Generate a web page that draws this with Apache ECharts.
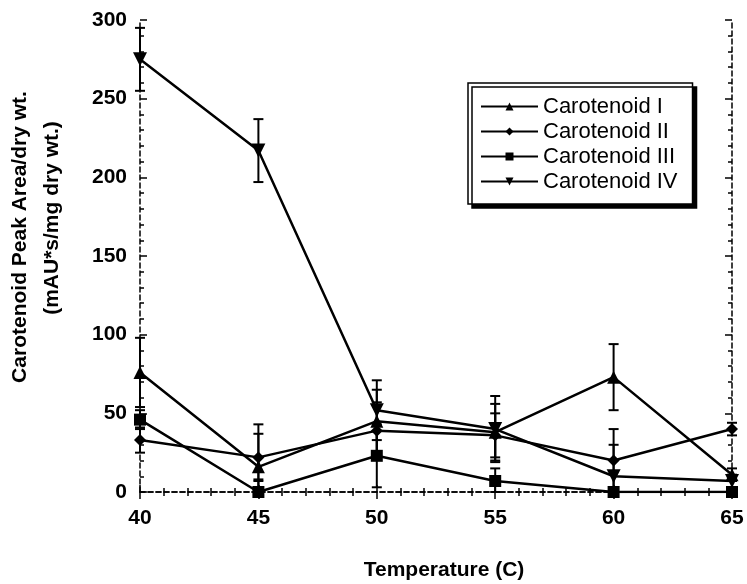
<!DOCTYPE html>
<html>
<head>
<meta charset="utf-8">
<script src="https://cdn.jsdelivr.net/npm/echarts@6/dist/echarts.min.js"></script>
<style>
  html, body { margin: 0; padding: 0; background: #fff; }
  #chart { width: 747px; height: 584px; }
</style>
</head>
<body>
<div id="chart"></div>
<script>
// Temperatures (C)
const temps = [40, 45, 50, 55, 60, 65];

// Mean peak area per dry weight for each carotenoid
const carI   = [76, 16, 45, 38, 73, 11];
const carII  = [33, 22, 39, 36, 20, 40];
const carIII = [46, 0, 23, 7, 0, 0];
const carIV  = [275, 217, 52, 40, 10, 7];

// Standard deviations (error bar half-lengths)
const errI   = [22, 27, 20, 18, 21, 4];
const errII  = [8, 15, 18, 14, 20, 4];
const errIII = [6, 8, 20, 8, 3, 2];
const errIV  = [20, 20, 19, 21, 20, 4];

const names = ['Carotenoid I', 'Carotenoid II', 'Carotenoid III', 'Carotenoid IV'];
const yTicks = [0, 50, 100, 150, 200, 250, 300];
const xTitle = 'Temperature (C)';
const yTitle = ['Carotenoid Peak Area/dry wt.', '(mAU*s/mg dry wt.)'];

const FONT = 'Liberation Sans, Arial, sans-serif';

function pairs(vals) {
  return temps.map((t, i) => [t, vals[i]]);
}
function bars(vals, errs) {
  return temps.map((t, i) => [t, Math.max(0, vals[i] - errs[i]), vals[i] + errs[i]]);
}

function errorRender(params, api) {
  const x = api.value(0);
  const lo = api.coord([x, api.value(1)]);
  const hi = api.coord([x, api.value(2)]);
  const cap = 5;
  const st = { stroke: '#000', lineWidth: 2 };
  return {
    type: 'group',
    children: [
      { type: 'line', shape: { x1: lo[0], y1: lo[1], x2: hi[0], y2: hi[1] }, style: st },
      { type: 'line', shape: { x1: hi[0] - cap, y1: hi[1], x2: hi[0] + cap, y2: hi[1] }, style: st },
      { type: 'line', shape: { x1: lo[0] - cap, y1: lo[1], x2: lo[0] + cap, y2: lo[1] }, style: st }
    ]
  };
}

const lineSeries = (name, vals, symbol, size, rotate) => ({
  name: name,
  type: 'line',
  data: pairs(vals),
  symbol: symbol,
  symbolSize: size,
  symbolRotate: rotate || 0,
  lineStyle: { color: '#000', width: 2.5 },
  itemStyle: { color: '#000' },
  z: 3
});

const errSeries = (vals, errs) => ({
  type: 'custom',
  data: bars(vals, errs),
  encode: { x: 0, y: [1, 2] },
  renderItem: errorRender,
  silent: true,
  z: 2
});

const axisLine = { show: true, lineStyle: { color: '#000', width: 1.5, type: [5, 3] } };
const majorTick = { show: true, inside: true, length: 7, lineStyle: { color: '#000', width: 1.5 } };
const minorTick = { show: true, splitNumber: 5, length: 4, lineStyle: { color: '#000', width: 1.5 } };
const tickLabel = { fontFamily: FONT, fontSize: 21, fontWeight: 'bold', color: '#000' };
const titleStyle = { fontFamily: FONT, fontSize: 21, fontWeight: 'bold', fill: '#000', align: 'center', verticalAlign: 'middle' };

const chart = echarts.init(document.getElementById('chart'));
chart.setOption({
  animation: false,
  backgroundColor: '#fff',
  grid: { left: 140, right: 15, top: 20, bottom: 92 },
  legend: {
    orient: 'vertical',
    left: 468,
    top: 83,
    padding: [11, 15, 10, 12],
    itemGap: 0,
    itemWidth: 57,
    itemHeight: 10,
    backgroundColor: '#fff',
    borderColor: '#000',
    borderWidth: 1.5,
    borderRadius: 0,
    shadowColor: '#000',
    shadowBlur: 0,
    shadowOffsetX: 4,
    shadowOffsetY: 4,
    textStyle: { fontFamily: FONT, fontSize: 22, color: '#000', lineHeight: 25 },
    data: names
  },
  graphic: [
    { type: 'text', x: 444, y: 570, style: Object.assign({ text: xTitle }, titleStyle) },
    { type: 'text', x: 20, y: 237, rotation: Math.PI / 2, style: Object.assign({ text: yTitle[0] }, titleStyle) },
    { type: 'text', x: 52, y: 218, rotation: Math.PI / 2, style: Object.assign({ text: yTitle[1] }, titleStyle) }
  ],
  xAxis: [
    {
      type: 'value', min: 40, max: 65, interval: 5,
      axisLine: axisLine, axisTick: majorTick, minorTick: minorTick,
      splitLine: { show: false },
      axisLabel: Object.assign({ margin: 16 }, tickLabel)
    },
    {
      type: 'value', min: 40, max: 65, interval: 5, position: 'top',
      axisLine: axisLine, axisTick: majorTick, minorTick: minorTick,
      splitLine: { show: false },
      axisLabel: { show: false }
    }
  ],
  yAxis: [
    {
      type: 'value', min: yTicks[0], max: yTicks[yTicks.length - 1], interval: 50,
      axisLine: axisLine, axisTick: majorTick, minorTick: minorTick,
      splitLine: { show: false },
      axisLabel: Object.assign({ margin: 13 }, tickLabel)
    },
    {
      type: 'value', min: yTicks[0], max: yTicks[yTicks.length - 1], interval: 50, position: 'right',
      axisLine: axisLine, axisTick: majorTick, minorTick: minorTick,
      splitLine: { show: false },
      axisLabel: { show: false }
    }
  ],
  series: [
    errSeries(carI, errI),
    errSeries(carII, errII),
    errSeries(carIII, errIII),
    errSeries(carIV, errIV),
    lineSeries(names[0], carI, 'triangle', 13),
    lineSeries(names[1], carII, 'diamond', 12),
    lineSeries(names[2], carIII, 'rect', 12),
    lineSeries(names[3], carIV, 'triangle', 14, 180)
  ]
});
</script>
</body>
</html>
